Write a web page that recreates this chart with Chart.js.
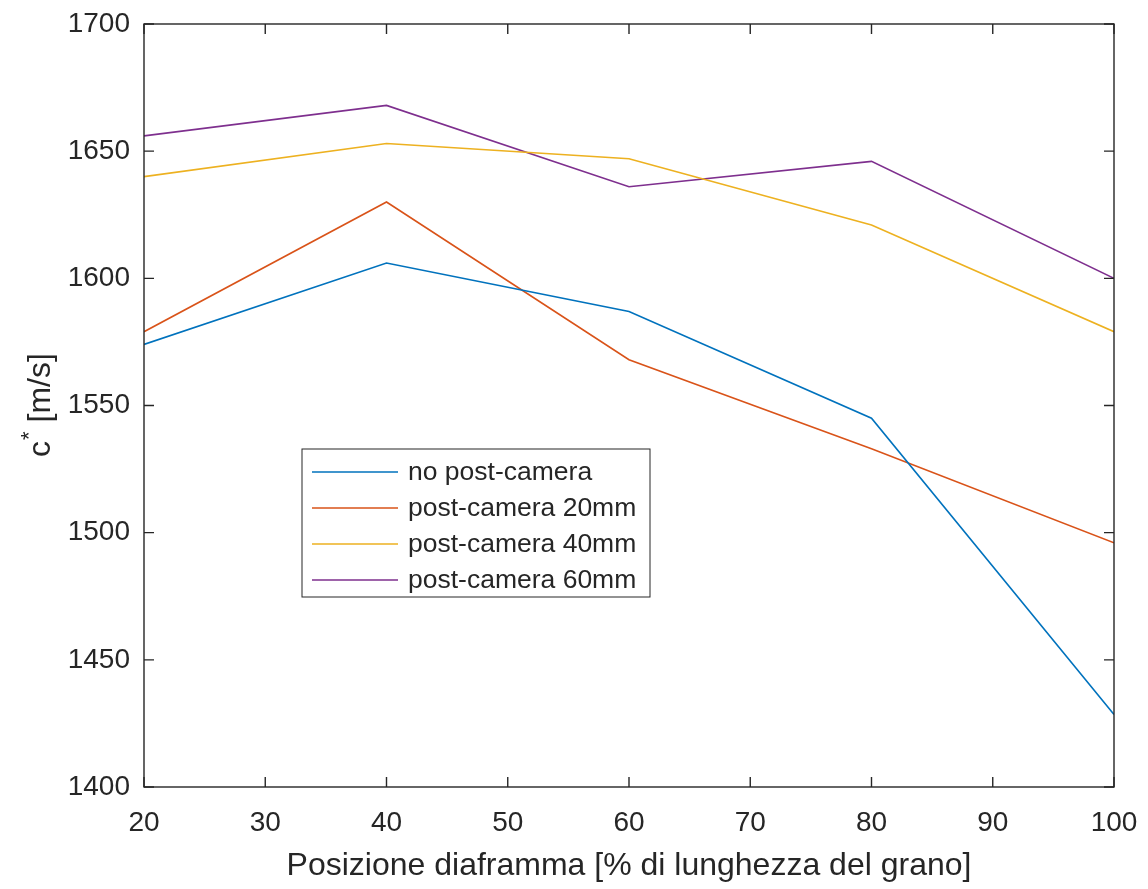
<!DOCTYPE html>
<html>
<head>
<meta charset="utf-8">
<script src="https://cdn.jsdelivr.net/npm/chart.js@4.4.1/dist/chart.umd.min.js"></script>
<style>
  html, body { margin: 0; padding: 0; background: #fff; }
  #wrap { width: 1148px; height: 889px; }
</style>
</head>
<body>
<div id="wrap"><canvas id="speedChart" width="1148" height="889"></canvas></div>
<script>
// diaphragm position (% of grain length)
const positions = [20, 40, 60, 80, 100];
const noPostCamera = [1574, 1606, 1587, 1545, 1428.5];
const postCamera20 = [1579, 1630, 1568, 1533, 1496];
const postCamera40 = [1640, 1653, 1647, 1621, 1579];
const postCamera60 = [1656, 1668, 1636, 1646, 1600];
const seriesLabels = ['no post-camera', 'post-camera 20mm', 'post-camera 40mm', 'post-camera 60mm'];
const seriesColors = ['#0072BD', '#D95319', '#EDB120', '#7E2F8E'];

const FONT = '"Liberation Sans", Arial, Helvetica, sans-serif';
const INK = '#262626';

function toPoints(values) {
    return values.map((v, i) => ({ x: positions[i], y: v }));
}

// box, inward ticks, axis titles and legend in MATLAB style
const frameAndTitles = {
    id: 'frameAndTitles',
    afterDatasetsDraw(chart) {
        const ctx = chart.ctx;
        const ca = chart.chartArea;
        const xs = chart.scales.x, ys = chart.scales.y;
        const tick = 10;

        ctx.save();
        ctx.strokeStyle = INK;
        ctx.lineWidth = 1.4;
        ctx.strokeRect(ca.left, ca.top, ca.right - ca.left, ca.bottom - ca.top);
        ctx.beginPath();
        xs.ticks.forEach(t => {
            const px = xs.getPixelForValue(t.value);
            ctx.moveTo(px, ca.bottom); ctx.lineTo(px, ca.bottom - tick);
            ctx.moveTo(px, ca.top); ctx.lineTo(px, ca.top + tick);
        });
        ys.ticks.forEach(t => {
            const py = ys.getPixelForValue(t.value);
            ctx.moveTo(ca.left, py); ctx.lineTo(ca.left + tick, py);
            ctx.moveTo(ca.right, py); ctx.lineTo(ca.right - tick, py);
        });
        ctx.stroke();

        // x title
        ctx.fillStyle = INK;
        ctx.font = '32px ' + FONT;
        ctx.textAlign = 'center';
        ctx.textBaseline = 'alphabetic';
        ctx.fillText('Posizione diaframma [% di lunghezza del grano]', (ca.left + ca.right) / 2, 875);

        // y title: c with superscript asterisk
        ctx.save();
        ctx.translate(50, (ca.top + ca.bottom) / 2);
        ctx.rotate(-Math.PI / 2);
        ctx.textAlign = 'left';
        ctx.font = '32px ' + FONT;
        const wC = ctx.measureText('c').width;
        const wRest = ctx.measureText(' [m/s]').width;
        ctx.font = '22px ' + FONT;
        const wStar = ctx.measureText('*').width;
        let x0 = -(wC + wStar + wRest) / 2;
        ctx.font = '32px ' + FONT;
        ctx.fillText('c', x0, 0);
        ctx.font = '22px ' + FONT;
        ctx.fillText('*', x0 + wC + 1, -14);
        ctx.font = '32px ' + FONT;
        ctx.fillText(' [m/s]', x0 + wC + wStar + 1, 0);
        ctx.restore();

        // legend box inside the axes
        const lx = ca.left + 158, ly = ca.top + 425, lw = 348, lh = 148;
        ctx.fillStyle = '#ffffff';
        ctx.fillRect(lx, ly, lw, lh);
        ctx.lineWidth = 1;
        ctx.strokeStyle = INK;
        ctx.strokeRect(lx, ly, lw, lh);
        ctx.font = '26.5px ' + FONT;
        ctx.textAlign = 'left';
        ctx.textBaseline = 'middle';
        chart.data.datasets.forEach((ds, i) => {
            const ry = ly + 23 + i * 36;
            ctx.strokeStyle = ds.borderColor;
            ctx.lineWidth = 1.5;
            ctx.beginPath();
            ctx.moveTo(lx + 10, ry); ctx.lineTo(lx + 96, ry);
            ctx.stroke();
            ctx.fillStyle = INK;
            ctx.fillText(ds.label, lx + 106, ry + 1);
        });
        ctx.restore();
    }
};

const ctx = document.getElementById('speedChart').getContext('2d');
new Chart(ctx, {
    type: 'line',
    data: {
        datasets: [noPostCamera, postCamera20, postCamera40, postCamera60].map((vals, i) => ({
            label: seriesLabels[i],
            data: toPoints(vals),
            borderColor: seriesColors[i],
            backgroundColor: seriesColors[i],
            borderWidth: 1.6,
            pointRadius: 0,
            tension: 0,
            fill: false
        }))
    },
    options: {
        responsive: false,
        animation: false,
        layout: { padding: { top: 24, right: 34, left: 0, bottom: 0 } },
        plugins: { legend: { display: false }, tooltip: { enabled: false } },
        scales: {
            x: {
                type: 'linear',
                min: 20, max: 100,
                grid: { display: false, drawTicks: false },
                border: { display: false },
                ticks: {
                    stepSize: 10, maxRotation: 0, padding: 19,
                    color: INK, font: { family: FONT, size: 28 },
                    callback: v => String(v)
                },
                afterFit(scale) {
                    scale.height = 102;
                    scale.paddingLeft = 0;
                    scale.paddingRight = 0;
                }
            },
            y: {
                min: 1400, max: 1700,
                grid: { display: false, drawTicks: false },
                border: { display: false },
                ticks: {
                    stepSize: 50, padding: 14,
                    color: INK, font: { family: FONT, size: 28 },
                    callback: v => String(v)
                },
                afterFit(scale) {
                    scale.width = 144;
                    scale.paddingTop = 0;
                    scale.paddingBottom = 0;
                }
            }
        }
    },
    plugins: [frameAndTitles]
});
</script>
</body>
</html>
